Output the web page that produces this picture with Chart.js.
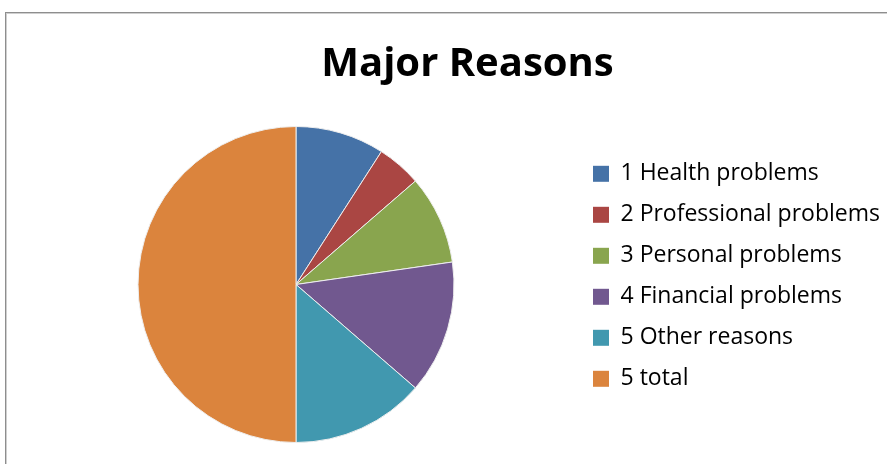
<!DOCTYPE html>
<html>
<head>
<meta charset="utf-8">
<script src="https://cdn.jsdelivr.net/npm/chart.js@4.4.1/dist/chart.umd.min.js"></script>
<style>
  html, body { margin: 0; padding: 0; background: #fff; overflow: hidden; width: 887px; height: 464px; }
  #frame { position: absolute; left: 5px; top: 12px; width: 1000px; height: 1000px;
           border-left: 1px solid #8e8e8e; border-top: 1px solid #8e8e8e;
           box-shadow: inset 1px 1px 0 #cfcfcf; }
  #c { position: absolute; left: 0; top: 0; }
</style>
</head>
<body>
<div id="frame"></div>
<canvas id="c" width="920" height="464"></canvas>
<script>
// ---- data ----
const chartTitle = 'Major Reasons';
const categories = ['1 Health problems', '2 Professional problems', '3 Personal problems',
                    '4 Financial problems', '5 Other reasons', '5 total'];
const values = [20, 10, 20, 30, 30, 110];
const sliceColors = ['#4572A7', '#AA4643', '#89A54E', '#71588F', '#4198AF', '#DB843D'];

// ---- layout constants ----
const W = 920, H = 464;          // canvas is a bit wider than the window (chart continues past the crop)
const legendFontSize = 23;
const legendPad = 18;
const legendBox = 16;
const legendLeftTarget = 575;   // chart-area right edge / legend left edge
const padLeft = 17;
const titleCenterX = 467.5;

// measure legend natural width to position it
const mctx = document.createElement('canvas').getContext('2d');
mctx.font = legendFontSize + 'px "Open Sans"';
const maxTextW = Math.max(...categories.map(s => mctx.measureText(s).width));
const legendW = legendPad + legendBox + legendFontSize / 2 + maxTextW + 10;
const padRight = Math.max(0, W - legendLeftTarget - legendW);

const titleShift = {
  id: 'titleShift',
  afterLayout(chart) {
    const t = chart.titleBlock;
    if (!t) return;
    const d = titleCenterX - (t.left + t.right) / 2;
    t.left += d; t.right += d;
  }
};

new Chart(document.getElementById('c'), {
  type: 'pie',
  data: {
    labels: categories,
    datasets: [{
      data: values,
      backgroundColor: sliceColors,
      borderColor: '#eeeeee',
      borderWidth: 1,
      hoverOffset: 0
    }]
  },
  options: {
    responsive: false,
    animation: false,
    layout: { padding: { left: padLeft, right: padRight, top: 0, bottom: 21 } },
    plugins: {
      tooltip: { enabled: false },
      title: {
        display: true,
        text: chartTitle,
        color: '#000',
        font: { family: '"Open Sans"', size: 40, weight: 'bold', lineHeight: 1.2 },
        padding: { top: 41, bottom: 37 }
      },
      legend: {
        position: 'right',
        align: 'start',
        fullSize: false,
        title: { display: true, text: '', font: { size: 10, lineHeight: 1.2 }, padding: { top: 0, bottom: 6.3 } },
        labels: {
          color: '#000',
          font: { family: '"Open Sans"', size: legendFontSize },
          boxWidth: legendBox,
          boxHeight: legendBox,
          padding: legendPad,
          generateLabels(chart) {
            return Chart.overrides.pie.plugins.legend.labels.generateLabels(chart)
              .map(l => Object.assign(l, { lineWidth: 0, strokeStyle: 'rgba(0,0,0,0)' }));
          }
        }
      }
    }
  },
  plugins: [titleShift]
});
</script>
</body>
</html>
